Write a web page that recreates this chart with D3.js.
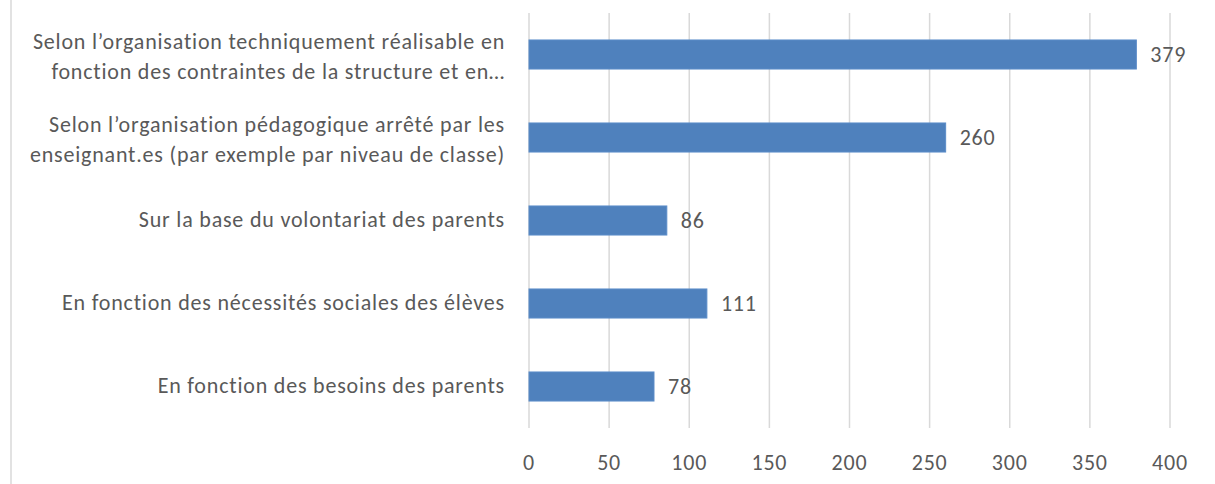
<!DOCTYPE html>
<html>
<head>
<meta charset="utf-8">
<script src="https://cdn.jsdelivr.net/npm/d3@7"></script>
<style>
  body { margin: 0; background: #fff; }
  svg text { font-family: Carlito, Lato, "Open Sans", sans-serif; fill: #595959; letter-spacing: 0.8px; }
</style>
</head>
<body>
<svg id="chart"></svg>
<script>
const categories = [
    ["Selon l\u2019organisation techniquement réalisable en", "fonction des contraintes de la structure et en\u2026"],
    ["Selon l\u2019organisation pédagogique arrêté par les", "enseignant.es (par exemple par niveau de classe)"],
    ["Sur la base du volontariat des parents"],
    ["En fonction des nécessités sociales des élèves"],
    ["En fonction des besoins des parents"]
];
const values = [379, 260, 86, 111, 78];
const ticks = [0, 50, 100, 150, 200, 250, 300, 350, 400];

const width = 1215, height = 484;
const svg = d3.select("#chart").attr("width", width).attr("height", height);

// plot area
const plotLeft = 529, plotRight = 1170, plotTop = 13, plotBottom = 428;
const fontSize = 22;

const x = d3.scaleLinear().domain([0, 400]).range([plotLeft, plotRight]);
const y = d3.scaleBand()
    .domain(d3.range(categories.length))
    .range([plotTop, plotBottom])
    .paddingInner(0.65)
    .paddingOuter(0.325);

// chart border (left edge only visible)
svg.append("line")
    .attr("x1", 11).attr("x2", 11)
    .attr("y1", 0).attr("y2", height)
    .attr("stroke", "#d9d9d9").attr("stroke-width", 1.5);

// gridlines
svg.append("g").selectAll("line").data(ticks).join("line")
    .attr("x1", d => x(d)).attr("x2", d => x(d))
    .attr("y1", plotTop).attr("y2", plotBottom)
    .attr("stroke", "#d9d9d9").attr("stroke-width", 1.5);

// tick labels
svg.append("g").selectAll("text").data(ticks).join("text")
    .attr("x", d => x(d))
    .attr("y", 465)
    .attr("text-anchor", "middle")
    .attr("dominant-baseline", "middle")
    .attr("font-size", fontSize)
    .text(d => d);

// bars
svg.append("g").selectAll("rect").data(values).join("rect")
    .attr("x", x(0))
    .attr("y", (d, i) => y(i))
    .attr("width", d => x(d) - x(0))
    .attr("height", y.bandwidth())
    .attr("fill", "#4f81bd")
    .attr("stroke", "#5b8cc8")
    .attr("stroke-width", 1);

// value labels
svg.append("g").selectAll("text").data(values).join("text")
    .attr("x", d => x(d) + 14)
    .attr("y", (d, i) => y(i) + y.bandwidth() / 2 + 2)
    .attr("dominant-baseline", "middle")
    .attr("font-size", fontSize)
    .text(d => d);

// category labels
const lineH = 30;
svg.append("g").selectAll("text").data(categories).join("text")
    .attr("text-anchor", "end")
    .attr("font-size", fontSize)
    .each(function (lines, i) {
        const cy = y(i) + y.bandwidth() / 2 + (lines.length > 1 ? 4 : 1);
        const y0 = cy - (lines.length - 1) * lineH / 2;
        d3.select(this).selectAll("tspan").data(lines).join("tspan")
            .attr("x", 505)
            .attr("y", (d, j) => y0 + j * lineH)
            .attr("dominant-baseline", "middle")
            .text(d => d);
    });
</script>
</body>
</html>
